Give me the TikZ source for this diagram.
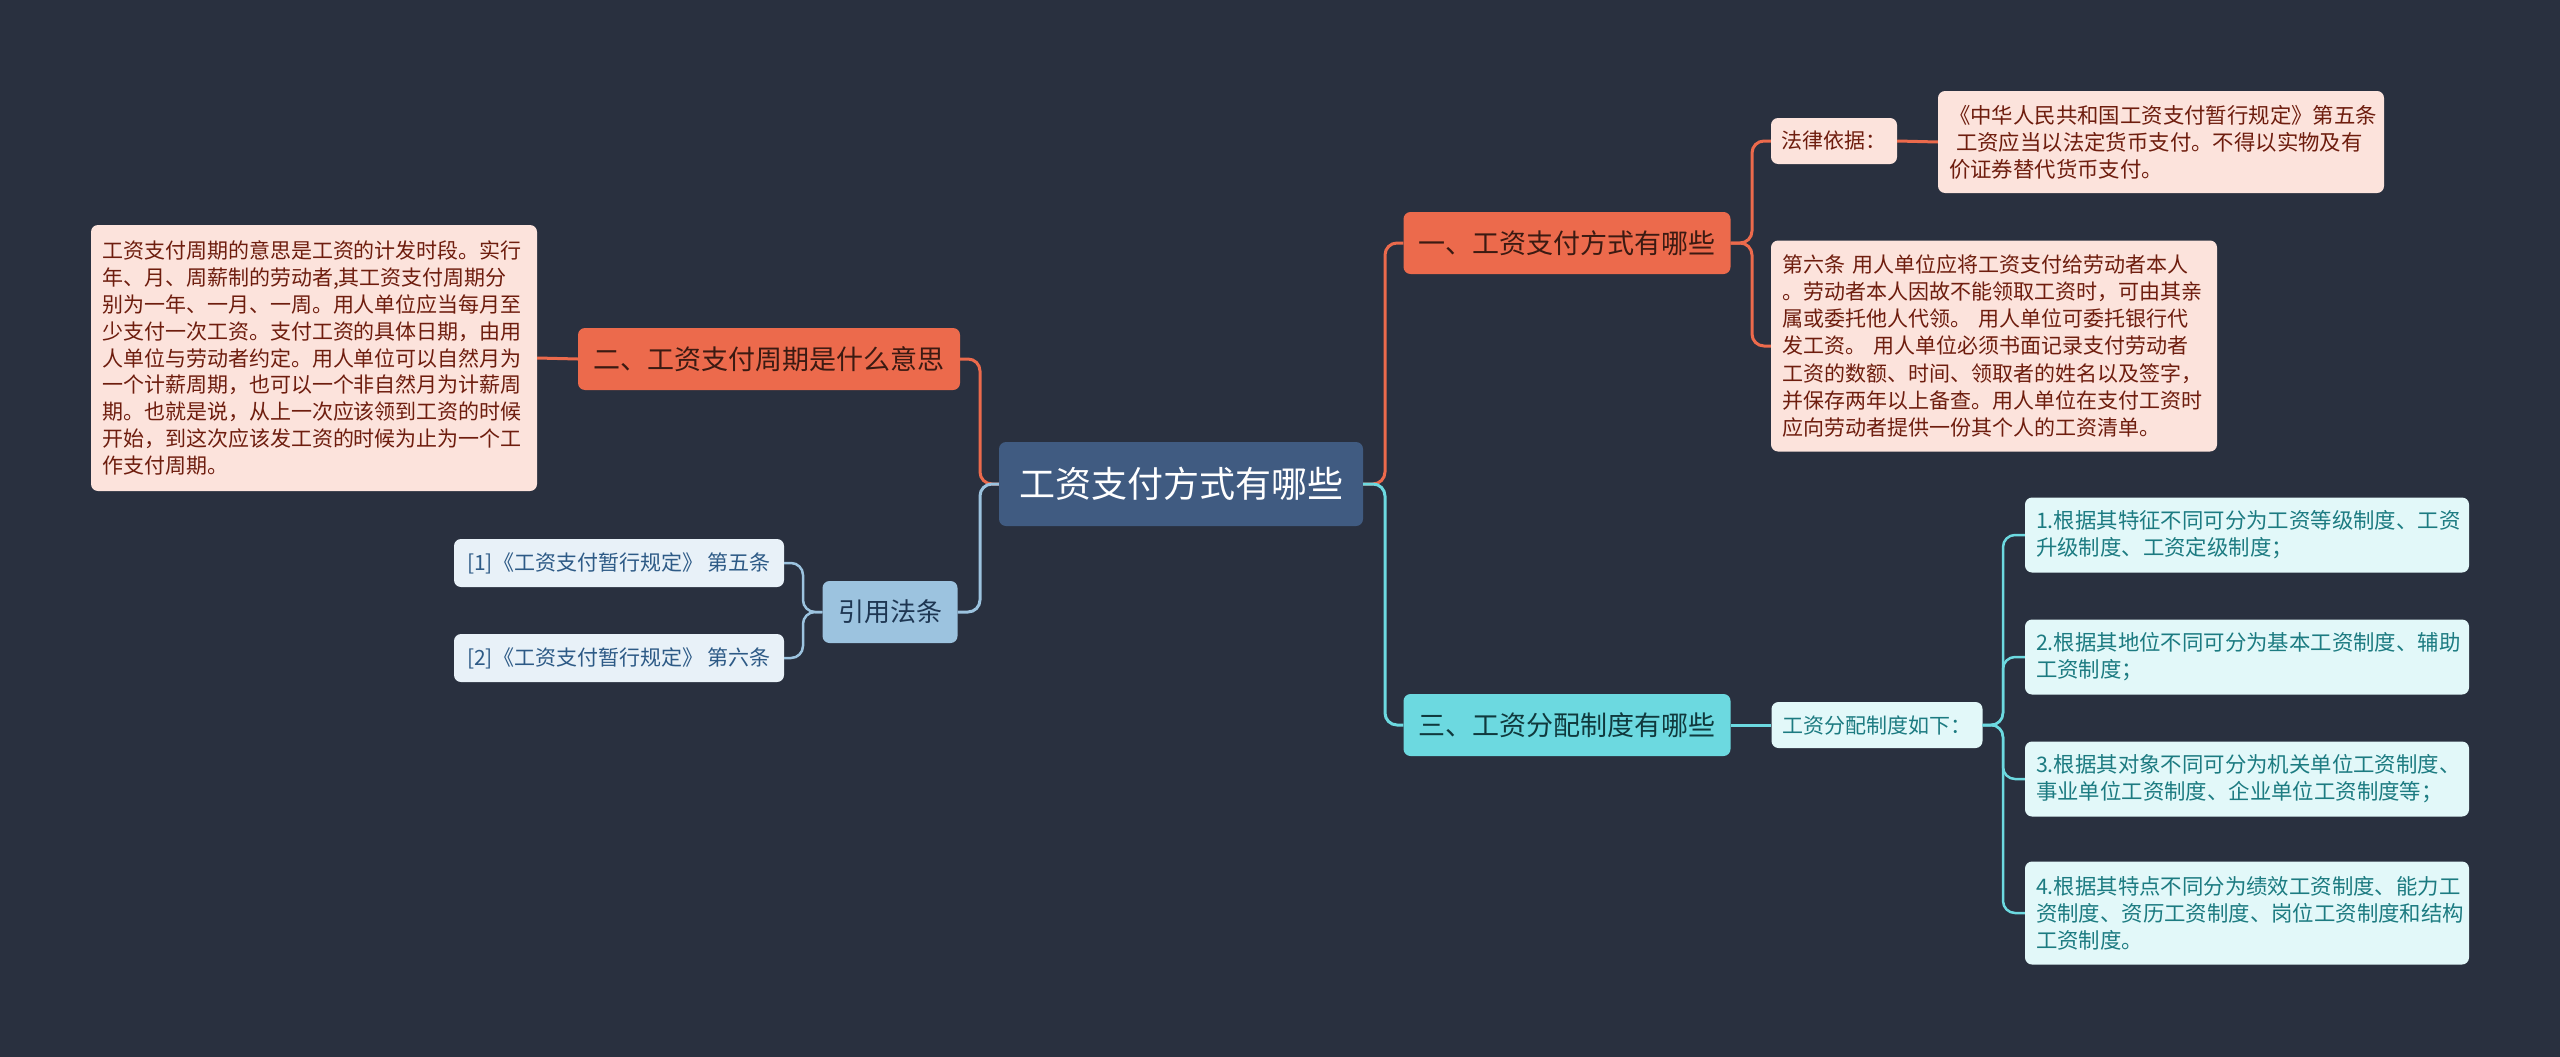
\documentclass[tikz,border=0pt]{standalone}
\usepackage{fontspec}
\newfontfamily\cjk{Noto Sans CJK SC}
\definecolor{bgnavy}{HTML}{29303F}
\definecolor{rootfill}{HTML}{405B81}
\definecolor{redfill}{HTML}{EC6A4C}
\definecolor{redtext}{HTML}{3B1A12}
\definecolor{pinkfill}{HTML}{FCE3DC}
\definecolor{pinktext}{HTML}{6E1D0E}
\definecolor{bluefill}{HTML}{9CC3DF}
\definecolor{bluetext}{HTML}{1E3652}
\definecolor{paleblue}{HTML}{E8F1F8}
\definecolor{paletext}{HTML}{2D5A86}
\definecolor{cyanfill}{HTML}{6CD9E0}
\definecolor{cyantext}{HTML}{10393D}
\definecolor{palecyan}{HTML}{E2F8F9}
\definecolor{tealtext}{HTML}{1C7B81}
\tikzset{
  box/.style={rounded corners=7pt, inner sep=0pt, align=center},
  rootbox/.style={box, fill=rootfill, text=white, font=\cjk\fontsize{36}{40}\selectfont},
  redbox/.style={box, fill=redfill, text=redtext, font=\cjk\fontsize{27}{30}\selectfont},
  pinkbox/.style={box, fill=pinkfill, text=pinktext, font=\cjk\fontsize{21}{27}\selectfont},
  bluebox/.style={box, fill=bluefill, text=bluetext, font=\cjk\fontsize{26}{30}\selectfont},
  palebox/.style={box, fill=paleblue, text=paletext, font=\cjk\fontsize{21}{27}\selectfont},
  cyanbox/.style={box, fill=cyanfill, text=cyantext, font=\cjk\fontsize{27}{30}\selectfont},
  tealbox/.style={box, fill=palecyan, text=tealtext, font=\cjk\fontsize{21}{27}\selectfont},
  para/.style={align=left, inner xsep=11pt},
  redline/.style={draw=redfill, line width=3pt, rounded corners=12pt},
  blueline/.style={draw=bluefill, line width=3pt, rounded corners=12pt},
  cyanline/.style={draw=cyanfill, line width=3pt, rounded corners=12pt},
}
\begin{document}
\begin{tikzpicture}[x=1pt, y=-1pt]
	\fill[bgnavy](0, 0) rectangle (2560, 1057);
	\useasboundingbox(0, 0) rectangle (2560, 1057);

	% centre
	\node[rootbox, minimum width=364, minimum height=84] (root) at(1181, 484){工资支付方式有哪些};
	\coordinate (rjoin) at(1385, 484);
	\coordinate (ljoin) at(980, 484);

	% branch one
	\node[redbox, minimum width=327, minimum height=62] (yi) at(1567, 243){一、工资支付方式有哪些};
	\coordinate (yjoin) at(1752, 243);
		\node[pinkbox, minimum width=126, minimum height=46] (law) at(1834, 141){法律依据：};
		\node[pinkbox, para, text width=424, minimum height=102, font=\cjk\fontsize{21.4}{27}\selectfont] (zhong) at(2161, 142){%
			《中华人民共和国工资支付暂行规定》第五条\\
			\ 工资应当以法定货币支付。不得以实物及有\\
			价证券替代货币支付。};
		\node[pinkbox, para, text width=424, minimum height=211, font=\cjk\fontsize{21}{27.2}\selectfont] (art6) at(1994, 346){%
			第六条 用人单位应将工资支付给劳动者本人\\
			。劳动者本人因故不能领取工资时，可由其亲\\
			属或委托他人代领。 用人单位可委托银行代\\
			发工资。 用人单位必须书面记录支付劳动者\\
			工资的数额、时间、领取者的姓名以及签字，\\
			并保存两年以上备查。用人单位在支付工资时\\
			应向劳动者提供一份其个人的工资清单。};

	% branch two
	\node[redbox, minimum width=382, minimum height=62] (er) at(769, 359){二、工资支付周期是什么意思};
		\node[pinkbox, para, text width=424, minimum height=266, font=\cjk\fontsize{21}{26.9}\selectfont] (zhouqi) at(314, 358){%
			工资支付周期的意思是工资的计发时段。实行\\
			年、月、周薪制的劳动者,其工资支付周期分\\
			别为一年、一月、一周。用人单位应当每月至\\
			少支付一次工资。支付工资的具体日期，由用\\
			人单位与劳动者约定。用人单位可以自然月为\\
			一个计薪周期，也可以一个非自然月为计薪周\\
			期。也就是说，从上一次应该领到工资的时候\\
			开始，到这次应该发工资的时候为止为一个工\\
			作支付周期。};

	% references
	\node[bluebox, minimum width=135, minimum height=62] (yin) at(890, 612){引用法条};
	\coordinate (cjoin) at(803, 612);
		\node[palebox, minimum width=330, minimum height=48] (cite1) at(619, 563){[1]《工资支付暂行规定》 第五条};
		\node[palebox, minimum width=330, minimum height=48] (cite2) at(619, 658){[2]《工资支付暂行规定》 第六条};

	% branch three
	\node[cyanbox, minimum width=327, minimum height=62] (san) at(1567, 725){三、工资分配制度有哪些};
		\node[tealbox, minimum width=211, minimum height=46] (fenpei) at(1877, 725){工资分配制度如下：};
		\coordinate (fjoin) at(2003, 725);
		\node[tealbox, para, text width=422, minimum height=75, font=\cjk\fontsize{21.4}{27}\selectfont] (zhi1) at(2247, 535){%
			1.根据其特征不同可分为工资等级制度、工资\\
			升级制度、工资定级制度；};
		\node[tealbox, para, text width=422, minimum height=75, font=\cjk\fontsize{21.4}{27}\selectfont] (zhi2) at(2247, 657){%
			2.根据其地位不同可分为基本工资制度、辅助\\
			工资制度；};
		\node[tealbox, para, text width=422, minimum height=75, font=\cjk\fontsize{21.4}{27}\selectfont] (zhi3) at(2247, 779){%
			3.根据其对象不同可分为机关单位工资制度、\\
			事业单位工资制度、企业单位工资制度等；};
		\node[tealbox, para, text width=422, minimum height=103, font=\cjk\fontsize{21.4}{27}\selectfont] (zhi4) at(2247, 913){%
			4.根据其特点不同分为绩效工资制度、能力工\\
			资制度、资历工资制度、岗位工资制度和结构\\
			工资制度。};

	% connectors
	\draw[redline](root.east) -- (rjoin) |- (yi.west);
	\draw[cyanline](root.east) -- (rjoin) |- (san.west);
	\draw[redline](root.west) -- (ljoin) |- (er.east);
	\draw[blueline](root.west) -- (ljoin) |- (yin.east);

	\draw[redline](yi.east) -- (yjoin) |- (law.west);
	\draw[redline](yi.east) -- (yjoin) |- (art6.west);
	\draw[redline](law.east) -- (zhong.west);
	\draw[redline](er.west) -- (zhouqi.east);

	\draw[blueline, line width=2.5pt](yin.west) -- (cjoin) |- (cite1.east);
	\draw[blueline, line width=2.5pt](yin.west) -- (cjoin) |- (cite2.east);

	\draw[cyanline](san.east) -- (fenpei.west);
	\draw[cyanline, line width=2.5pt](fenpei.east) -- (fjoin) |- (zhi1.west);
	\draw[cyanline, line width=2.5pt](fenpei.east) -- (fjoin) |- (zhi2.west);
	\draw[cyanline, line width=2.5pt](fenpei.east) -- (fjoin) |- (zhi3.west);
	\draw[cyanline, line width=2.5pt](fenpei.east) -- (fjoin) |- (zhi4.west);
\end{tikzpicture}
\end{document}
